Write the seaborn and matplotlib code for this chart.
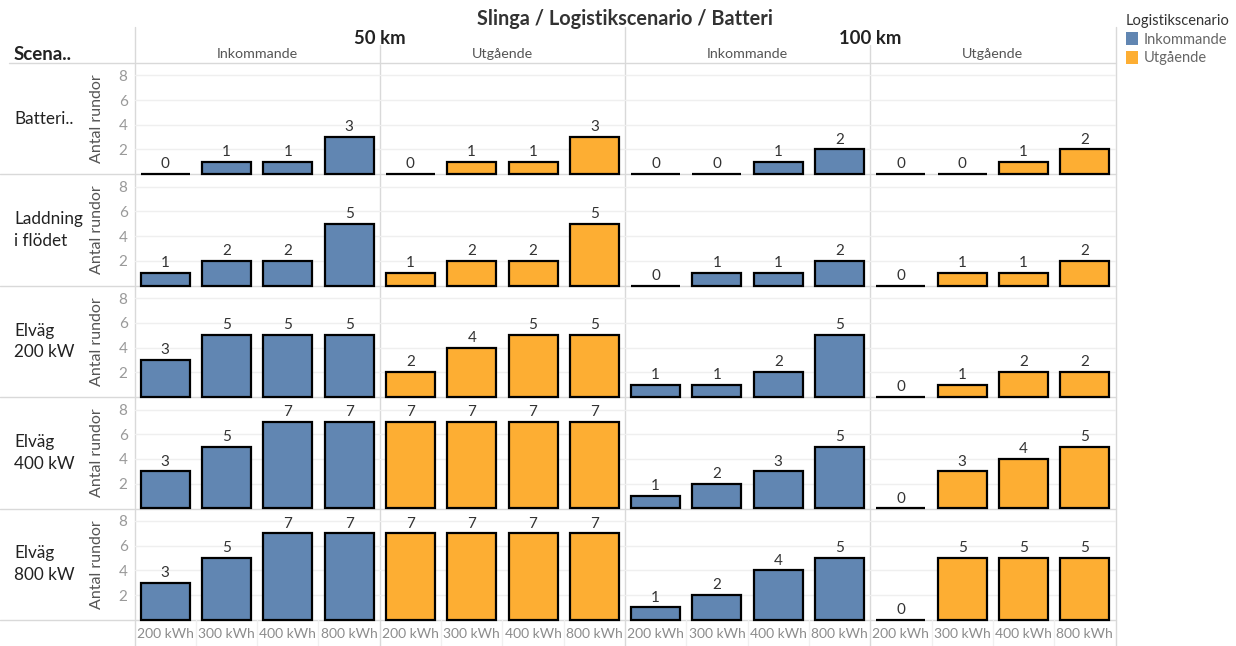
import matplotlib
matplotlib.use("Agg")
import matplotlib.pyplot as plt
from matplotlib.patches import Patch
import seaborn as sns
import pandas as pd

sns.set_theme(style="white")
plt.rcParams["font.family"] = ["Lato", "DejaVu Sans"]

# ---- data -------------------------------------------------------------
scenarios = ["Batteri..", "Laddning\ni flödet", "Elväg\n200 kW", "Elväg\n400 kW", "Elväg\n800 kW"]
distances = ["50 km", "100 km"]
logistics = ["Inkommande", "Utgående"]
batteries = ["200 kWh", "300 kWh", "400 kWh", "800 kWh"]

# rounds per scenario (rows) and battery size (columns)
rounds_50_in = [[0, 1, 1, 3], [1, 2, 2, 5], [3, 5, 5, 5], [3, 5, 7, 7], [3, 5, 7, 7]]
rounds_50_out = [[0, 1, 1, 3], [1, 2, 2, 5], [2, 4, 5, 5], [7, 7, 7, 7], [7, 7, 7, 7]]
rounds_100_in = [[0, 0, 1, 2], [0, 1, 1, 2], [1, 1, 2, 5], [1, 2, 3, 5], [1, 2, 4, 5]]
rounds_100_out = [[0, 0, 1, 2], [0, 1, 1, 2], [0, 1, 2, 2], [0, 3, 4, 5], [0, 5, 5, 5]]

series = {
    ("50 km", "Inkommande"): rounds_50_in,
    ("50 km", "Utgående"): rounds_50_out,
    ("100 km", "Inkommande"): rounds_100_in,
    ("100 km", "Utgående"): rounds_100_out,
}

records = []
for (dist, logi), table in series.items():
    for scen, row in zip(scenarios, table):
        for bat, val in zip(batteries, row):
            records.append({"Slinga": dist, "Logistikscenario": logi,
                            "Scenario": scen, "Batteri": bat, "Antal rundor": val})
df = pd.DataFrame(records)

palette = {"Inkommande": "#6186B2", "Utgående": "#FDAE33"}

# ---- layout (pixel grid) ---------------------------------------------
W, H = 1236, 646
fig = plt.figure(figsize=(W / 100, H / 100), dpi=100)
fig.patch.set_facecolor("white")

col_edges = [134.5, 379.75, 625.0, 870.25, 1115.5]
row_edges = [63.0, 174.4, 285.8, 397.2, 508.6, 620.0]
columns = [(d, l) for d in distances for l in logistics]

# overlay for separators and header text, in pixel coordinates
ov = fig.add_axes([0, 0, 1, 1], zorder=0)
ov.set_xlim(0, W)
ov.set_ylim(H, 0)
ov.axis("off")

sep = "#d9d9d9"
ov.plot([9, col_edges[-1]], [row_edges[0]] * 2, color=sep, lw=1)
for y in row_edges[1:]:
    ov.plot([0, col_edges[-1]], [y, y], color=sep, lw=1)
for k, x in enumerate(col_edges):
    top = 45 if k in (1, 3) else 27
    ov.plot([x, x], [top, H], color=sep, lw=1)
for j in range(4):
    l, r = col_edges[j], col_edges[j + 1]
    for k in range(1, 4):
        x = l + k * (r - l) / 4
        ov.plot([x, x], [row_edges[-1], H], color="#f0f0f0", lw=1)

ov.text(625, 19, "Slinga / Logistikscenario / Batteri", ha="center", va="center",
        fontsize=14.3, fontweight="bold", color="#333333")
for d, cx in zip(distances, [380, 870]):
    ov.text(cx, 38, d, ha="center", va="center", fontsize=13.3,
            fontweight="bold", color="#222222")
for j, (d, l) in enumerate(columns):
    cx = (col_edges[j] + col_edges[j + 1]) / 2
    ov.text(cx, 54, l, ha="center", va="center", fontsize=10.3, color="#555555")
ov.text(14, 54, "Scena..", ha="left", va="center", fontsize=13.5,
        fontweight="bold", color="#222222")
for i, scen in enumerate(scenarios):
    cy = (row_edges[i] + row_edges[i + 1]) / 2
    ov.text(14, cy, scen, ha="left", va="center", fontsize=12.3,
            color="#222222", linespacing=1.45)
    ov.text(97, cy, "Antal rundor", ha="center", va="center", rotation=90,
            fontsize=11.5, color="#555555")

# ---- panels ----------------------------------------------------------
for i, scen in enumerate(scenarios):
    for j, (d, l) in enumerate(columns):
        left, right = col_edges[j], col_edges[j + 1]
        top, bottom = row_edges[i], row_edges[i + 1]
        ax = fig.add_axes([left / W, 1 - bottom / H, (right - left) / W,
                           (bottom - top) / H], zorder=1)
        ax.set_facecolor("none")
        sub = df[(df["Scenario"] == scen) & (df["Slinga"] == d) &
                 (df["Logistikscenario"] == l)]
        for g in (2, 4, 6, 8):
            ax.axhline(g, color="#efefef", lw=1, zorder=0)
        sns.barplot(data=sub, x="Batteri", y="Antal rundor", order=batteries,
                    color=palette[l], saturation=1, edgecolor="black",
                    linewidth=1.6, width=0.8, errorbar=None, ax=ax, zorder=2)
        for p in ax.patches:
            p.set_clip_on(False)
        ax.bar_label(ax.containers[0], fmt="%d", padding=2, fontsize=11,
                     color="#333333")
        ax.set_ylim(-0.02, 9)
        ax.set_xlim(-0.5, 3.5)
        for s in ax.spines.values():
            s.set_visible(False)
        ax.set_xlabel("")
        ax.set_ylabel("")
        ax.tick_params(length=0)
        if j == 0:
            ax.set_yticks([2, 4, 6, 8])
            ax.set_yticklabels(["2", "4", "6", "8"], fontsize=11, color="#999999")
            ax.tick_params(axis="y", pad=5)
        else:
            ax.set_yticks([])
        if i == len(scenarios) - 1:
            ax.set_xticks(range(4))
            ax.set_xticklabels(batteries, fontsize=10, color="#8c8c8c")
            ax.tick_params(axis="x", pad=6)
        else:
            ax.set_xticks([])

# ---- legend ----------------------------------------------------------
handles = [Patch(facecolor=palette[l], edgecolor="none", label=l) for l in logistics]
leg = fig.legend(handles=handles, title="Logistikscenario", loc="upper left",
                 bbox_to_anchor=(1126 / W, 1 - 14 / H), frameon=False,
                 handlelength=0.85, handleheight=0.95, handletextpad=0.35,
                 labelspacing=0.3, borderpad=0, borderaxespad=0,
                 alignment="left", fontsize=10.5, title_fontsize=10.5)
leg.get_title().set_color("#333333")
for t in leg.get_texts():
    t.set_color("#666666")

fig.savefig("out.png", dpi=100, facecolor="white")
